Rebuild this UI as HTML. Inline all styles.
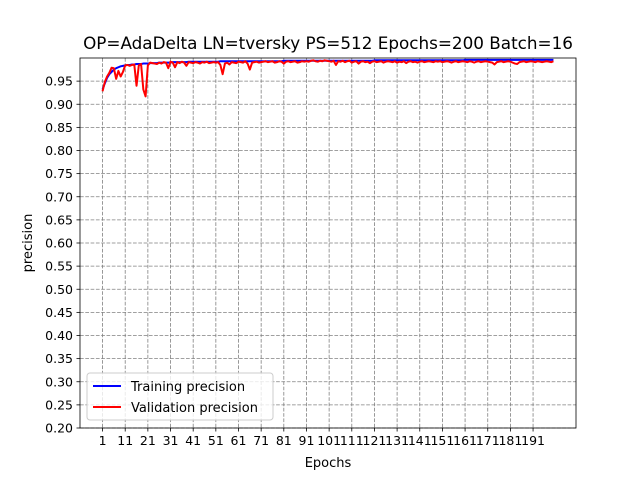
<!DOCTYPE html>
<html><head><meta charset="utf-8">
<style>
html,body{margin:0;padding:0;background:#fff;}
svg{display:block;font-family:"DejaVu Sans","Liberation Sans",sans-serif;}
</style></head>
<body>
<svg id="chart" width="640" height="480" viewBox="0 0 640 480"></svg>
<script>
const tickEpochs=[1,11,21,31,41,51,61,71,81,91,101,111,121,131,141,151,161,171,181,191];
const yTicks=[0.20,0.25,0.30,0.35,0.40,0.45,0.50,0.55,0.60,0.65,0.70,0.75,0.80,0.85,0.90,0.95];
const trainPrecision=[
.932,.945,.957,.965,.970,.975,.978,.980,.982,.983,
.984,.985,.985,.986,.986,.987,.987,.987,.988,.988,
.988,.989,.989,.989,.989,.990,.990,.990,.990,.990,
.990,.991,.991,.991,.991,.991,.991,.991,.992,.992,
.992,.992,.992,.992,.992,.992,.992,.992,.992,.992,
.992,.992,.993,.993,.993,.993,.993,.993,.993,.993,
.993,.993,.993,.993,.993,.993,.993,.993,.993,.993,
.993,.993,.993,.993,.993,.993,.993,.993,.993,.993,
.994,.994,.994,.994,.994,.994,.994,.994,.994,.994,
.994,.994,.994,.994,.994,.994,.994,.994,.994,.994,
.994,.994,.994,.994,.994,.994,.994,.994,.994,.994,
.994,.994,.994,.994,.994,.994,.994,.994,.994,.994,
.995,.995,.995,.995,.995,.995,.995,.995,.995,.995,
.995,.995,.995,.995,.995,.995,.995,.995,.995,.995,
.995,.995,.995,.995,.995,.995,.995,.995,.995,.995,
.995,.995,.995,.995,.995,.995,.995,.995,.995,.995,
.996,.996,.996,.996,.996,.996,.996,.996,.996,.996,
.996,.996,.996,.996,.996,.996,.996,.996,.996,.996,
.996,.996,.996,.996,.996,.996,.996,.996,.996,.996,
.996,.996,.996,.996,.996,.996,.996,.996,.996,.996];
const valPrecision=[
.928,.948,.960,.968,.979,.978,.955,.972,.960,.970,
.984,.985,.983,.985,.986,.940,.984,.987,.932,.917,
.984,.990,.989,.988,.987,.990,.988,.991,.990,.978,
.992,.990,.980,.991,.989,.992,.990,.983,.991,.990,
.989,.991,.990,.988,.991,.990,.992,.989,.990,.991,
.990,.991,.985,.965,.988,.990,.986,.991,.990,.989,
.992,.991,.990,.993,.988,.975,.990,.991,.992,.990,
.991,.992,.993,.991,.992,.993,.990,.991,.993,.992,
.988,.992,.993,.991,.992,.993,.990,.991,.993,.992,
.993,.992,.994,.995,.993,.992,.994,.993,.995,.994,
.993,.992,.994,.985,.993,.992,.994,.991,.993,.994,
.990,.992,.993,.988,.992,.993,.991,.992,.989,.992,
.993,.991,.992,.993,.990,.992,.993,.992,.991,.993,
.990,.992,.991,.993,.989,.992,.993,.991,.992,.990,
.992,.993,.991,.992,.993,.992,.991,.993,.992,.993,
.991,.992,.993,.992,.990,.992,.993,.991,.992,.993,
.992,.991,.993,.992,.990,.992,.993,.991,.992,.993,
.992,.991,.990,.986,.991,.992,.993,.991,.992,.993,
.992,.990,.988,.987,.991,.992,.993,.991,.992,.993,
.992,.991,.993,.992,.991,.992,.993,.992,.991,.993];

const NS="http://www.w3.org/2000/svg";
const svg=document.getElementById('chart');
const L=80,R=576,T=58,B=428;
const xMin=-8.95,xMax=209.95,yMin=0.2,yMax=1.0;
const xs=v=>L+(v-xMin)/(xMax-xMin)*(R-L);
const ys=v=>B-(v-yMin)/(yMax-yMin)*(B-T);
function el(tag,attrs,parent){const e=document.createElementNS(NS,tag);for(const k in attrs)e.setAttribute(k,attrs[k]);(parent||svg).appendChild(e);return e;}

const grid=el('g',{});


const xt=el('g',{});


tickEpochs.forEach(t=>{
  const x=xs(t);
  el('line',{x1:x,x2:x,y1:T,y2:B,stroke:'#808080','stroke-width':0.8,'stroke-dasharray':'3.7,1.6'},grid);
  el('line',{x1:x,x2:x,y1:B,y2:B+3.5,stroke:'#000','stroke-width':0.8},xt);
  const tx=el('text',{x:x,y:B+17,'font-size':12.5,'text-anchor':'middle',fill:'#000'},xt);
  tx.textContent=t;
  
  
});
const yt=el('g',{});


yTicks.forEach(t=>{
  const y=ys(t);
  el('line',{x1:L,x2:R,y1:y,y2:y,stroke:'#808080','stroke-width':0.8,'stroke-dasharray':'3.7,1.6'},grid);
  el('line',{x1:L-3.5,x2:L,y1:y,y2:y,stroke:'#000','stroke-width':0.8},yt);
  const tx=el('text',{x:L-7,y:y+4.5,'font-size':12.5,'text-anchor':'end',fill:'#000'},yt);
  tx.textContent=t.toFixed(2);
  
  
});

function line(data,color,name){
  const pts=data.map((v,i)=>xs(i+1).toFixed(2)+','+ys(v).toFixed(2)).join(' ');
  const p=el('polyline',{points:pts,fill:'none',stroke:color,'stroke-width':2,'stroke-linejoin':'round'});
  
  
}
line(trainPrecision,'#0000ff','training-precision-line');
line(valPrecision,'#ff0000','validation-precision-line');

const frame=el('rect',{x:L,y:T,width:R-L,height:B-T,fill:'none',stroke:'#000','stroke-width':0.8});



const title=el('text',{x:328,y:49,'font-size':16.8,'text-anchor':'middle',fill:'#000'});
title.textContent='OP=AdaDelta LN=tversky PS=512 Epochs=200 Batch=16';


const xl=el('text',{x:328,y:467,'font-size':13,'text-anchor':'middle',fill:'#000'});
xl.textContent='Epochs';


const yl=el('text',{x:0,y:0,'font-size':13,'text-anchor':'middle',fill:'#000',transform:'translate(32,243) rotate(-90)'});
yl.textContent='precision';



const lg=el('g',{});


el('rect',{x:87,y:373,width:186,height:47,rx:3,fill:'#fff','fill-opacity':0.8,stroke:'#ccc','stroke-width':1},lg);
const e1=el('g',{},lg);


el('line',{x1:93,x2:121,y1:386,y2:386,stroke:'#0000ff','stroke-width':2},e1);
const t1=el('text',{x:131,y:391,'font-size':13,fill:'#000'},e1);t1.textContent='Training precision';
const e2=el('g',{},lg);


el('line',{x1:93,x2:121,y1:407,y2:407,stroke:'#ff0000','stroke-width':2},e2);
const t2=el('text',{x:131,y:412,'font-size':13,fill:'#000'},e2);t2.textContent='Validation precision';
</script>
</body></html>
